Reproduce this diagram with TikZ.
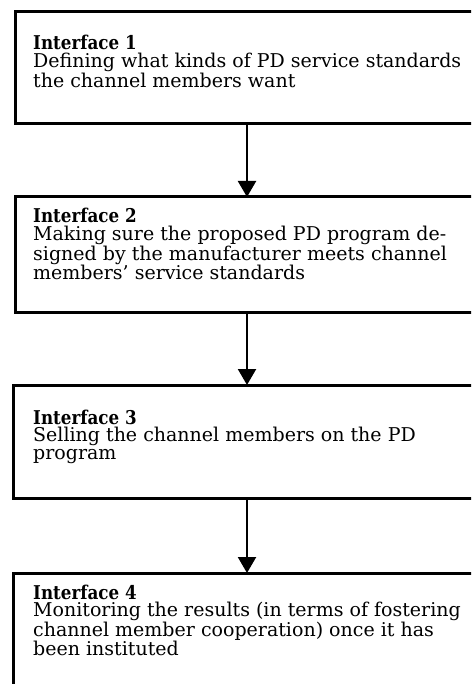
\documentclass[tikz,border=0pt]{standalone}
\usepackage{fontspec}
\setmainfont{DejaVu Serif}
\usetikzlibrary{arrows.meta}

\newcommand{\iflines}[1]{\parbox[t]{450pt}{\raggedright\fontsize{19}{17.6}\selectfont #1}}
\newcommand{\iftitle}[1]{\scalebox{0.88}[1]{\textbf{#1}}}

\begin{document}
\begin{tikzpicture}[x=1pt,y=-1pt,
  ifbox/.style={draw,line width=3pt,minimum width=480pt,inner sep=0pt,outer sep=0pt,anchor=north west},
  iftext/.style={inner sep=0pt,anchor=base west},
  flow/.style={line width=2.2pt,-{Triangle[width=18pt,length=16pt]}}]
  \clip (0,0) rectangle (471,684);
  % boxes
  \node[ifbox,minimum height=112pt] (box1) at (15,12) {};
  \node[ifbox,minimum height=115pt] (box2) at (15,197) {};
  \node[ifbox,minimum height=113pt] (box3) at (13,385) {};
  \node[ifbox,minimum height=140pt] (box4) at (13,573) {};
  % texts
  \node[iftext] (txt1) at (33,50) {\iflines{\iftitle{Interface 1}\\Defining what kinds of PD service standards\\the channel members want}};
  \node[iftext] (txt2) at (33,223) {\iflines{\iftitle{Interface 2}\\Making sure the proposed PD program de-\\signed by the manufacturer meets channel\\members' service standards}};
  \node[iftext] (txt3) at (33,424) {\iflines{\iftitle{Interface 3}\\Selling the channel members on the PD\\program}};
  \node[iftext] (txt4) at (33,599) {\iflines{\iftitle{Interface 4}\\Monitoring the results (in terms of fostering\\channel member cooperation) once it has\\been instituted}};
  % arrows
  \coordinate (ax) at (247,0);
  \draw[flow] (box1.south -| ax) -- (box2.north -| ax);
  \draw[flow] (box2.south -| ax) -- (box3.north -| ax);
  \draw[flow] (box3.south -| ax) -- (box4.north -| ax);
\end{tikzpicture}
\end{document}
